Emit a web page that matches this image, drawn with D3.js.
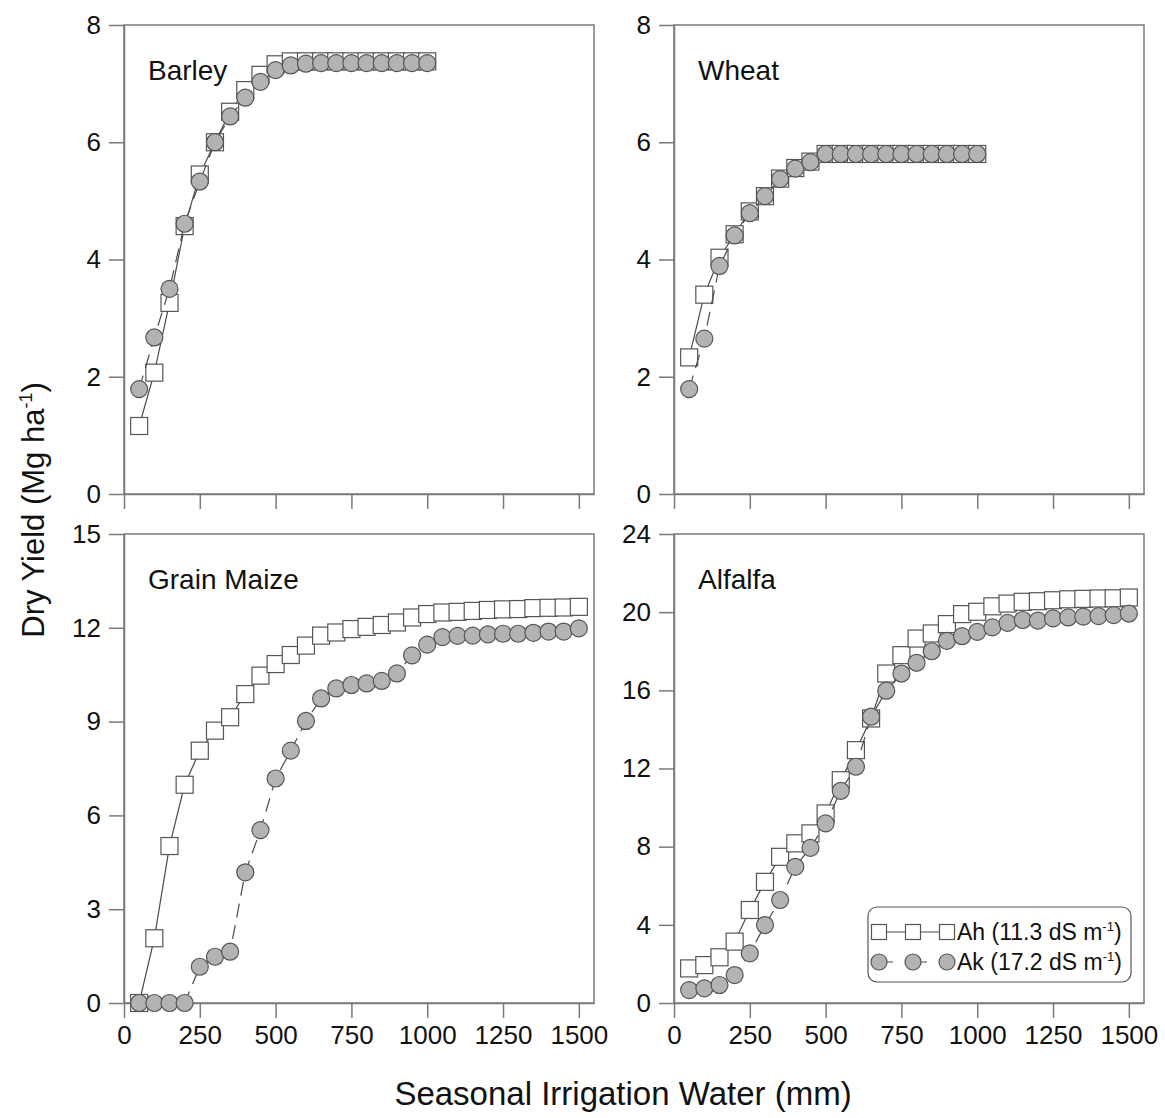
<!DOCTYPE html>
<html>
<head>
<meta charset="utf-8">
<script src="https://cdn.jsdelivr.net/npm/d3@7"></script>
<style>
body { margin: 0; background: #fff; }
svg text { font-family: "Liberation Sans", Arial, sans-serif; fill: #111; }
</style>
</head>
<body>
<div id="chart"></div>
<script>
// irrigation amounts (mm)
var waterShort = [50,100,150,200,250,300,350,400,450,500,550,600,650,700,750,800,850,900,950,1000];
var waterLong = [50,100,150,200,250,300,350,400,450,500,550,600,650,700,750,800,850,900,950,1000,
                 1050,1100,1150,1200,1250,1300,1350,1400,1450,1500];

// Ah = 11.3 dS/m, Ak = 17.2 dS/m
var barleyAh = [1.16,2.07,3.26,4.57,5.45,6.0,6.52,6.89,7.15,7.33,7.38,7.38,7.38,7.38,7.38,7.38,7.38,7.38,7.38,7.38];
var barleyAk = [1.79,2.67,3.5,4.61,5.33,6.0,6.44,6.76,7.03,7.23,7.31,7.34,7.35,7.35,7.35,7.35,7.35,7.35,7.35,7.35];
var wheatAh = [2.33,3.4,4.03,4.43,4.82,5.08,5.38,5.56,5.67,5.8,5.8,5.8,5.8,5.8,5.8,5.8,5.8,5.8,5.8,5.8];
var wheatAk = [1.79,2.65,3.89,4.41,4.79,5.08,5.37,5.55,5.66,5.8,5.8,5.8,5.8,5.8,5.8,5.8,5.8,5.8,5.8,5.8];
var maizeAh = [0,2.07,5.02,6.98,8.07,8.71,9.14,9.88,10.47,10.84,11.13,11.43,11.75,11.85,11.96,12.03,12.09,12.17,12.33,12.44,
               12.49,12.51,12.54,12.57,12.59,12.6,12.63,12.64,12.65,12.67];
var maizeAk = [0,0,0,0,1.16,1.48,1.64,4.18,5.53,7.18,8.07,9.02,9.74,10.06,10.17,10.22,10.3,10.54,11.12,11.46,
               11.7,11.74,11.75,11.79,11.81,11.81,11.84,11.88,11.88,11.98];
var alfalfaAh = [1.77,1.94,2.34,3.14,4.76,6.2,7.48,8.17,8.68,9.7,11.4,12.94,14.56,16.86,17.8,18.65,18.91,19.39,19.9,20.02,
                 20.3,20.44,20.53,20.56,20.61,20.66,20.68,20.7,20.71,20.75];
var alfalfaAk = [0.66,0.75,0.92,1.43,2.54,3.99,5.27,6.97,7.94,9.19,10.86,12.09,14.65,15.98,16.86,17.41,18.0,18.53,18.77,18.99,
                 19.22,19.45,19.6,19.57,19.68,19.73,19.77,19.8,19.85,19.93];

var cropNames = ["Barley","Wheat","Grain Maize","Alfalfa"];
var yMaxes = [8,8,15,24];
var yTickSteps = [2,2,3,4];
var xTicks = [0,250,500,750,1000,1250,1500];
var legendNames = ["Ah (11.3 dS m", "Ak (17.2 dS m"];

var panels = [
    {name: cropNames[0], water: waterShort, ah: barleyAh, ak: barleyAk, ymax: yMaxes[0], step: yTickSteps[0], left: 124, top: 25, labels: false},
    {name: cropNames[1], water: waterShort, ah: wheatAh, ak: wheatAk, ymax: yMaxes[1], step: yTickSteps[1], left: 674, top: 25, labels: false},
    {name: cropNames[2], water: waterLong, ah: maizeAh, ak: maizeAk, ymax: yMaxes[2], step: yTickSteps[2], left: 124, top: 534, labels: true},
    {name: cropNames[3], water: waterLong, ah: alfalfaAh, ak: alfalfaAk, ymax: yMaxes[3], step: yTickSteps[3], left: 674, top: 534, labels: true}
];

var panelW = 470, panelH = 469;
var frameColor = "#7a7a7a";
var lineColor = "#4a4a4a";

var svg = d3.select("#chart").append("svg")
    .attr("width", 1165)
    .attr("height", 1118);

function drawPanel(p){
    var g = svg.append("g").attr("transform", "translate(" + p.left + "," + p.top + ")");

    var x = d3.scaleLinear().domain([0, 1550]).range([0, panelW]);
    var y = d3.scaleLinear().domain([0, p.ymax]).range([panelH, 0]);

    var xAxis = d3.axisBottom(x).tickValues(xTicks).tickSizeInner(15).tickSizeOuter(0).tickPadding(8)
        .tickFormat(p.labels ? d3.format("d") : "");
    var yAxis = d3.axisLeft(y).tickValues(d3.range(0, p.ymax + 0.01, p.step)).tickSizeInner(15).tickSizeOuter(0).tickPadding(8);

    // frame
    g.append("rect")
        .attr("x", 0).attr("y", 0)
        .attr("width", panelW).attr("height", panelH)
        .attr("fill", "none")
        .attr("stroke", frameColor)
        .attr("stroke-width", 1.5);

    var gx = g.append("g")
        .attr("transform", "translate(0," + panelH + ")")
        .call(xAxis);
    var gy = g.append("g").call(yAxis);
    [gx, gy].forEach(function(a){
        a.select(".domain").attr("stroke", frameColor).attr("stroke-width", 1.5);
        a.selectAll(".tick line").attr("stroke", frameColor).attr("stroke-width", 1.5);
        a.selectAll(".tick text").style("font-size", "26px").attr("fill", "#111");
    });

    g.append("text")
        .attr("x", 24)
        .attr("y", 55)
        .style("font-size", "28px")
        .text(p.name);

    var line = d3.line()
        .x(function(d, i) { return x(p.water[i]); })
        .y(function(d) { return y(d); });

    g.append("path")
        .datum(p.ah)
        .attr("d", line)
        .attr("fill", "none")
        .attr("stroke", lineColor)
        .attr("stroke-width", 1.2);

    g.selectAll("rect.ah")
        .data(p.ah)
        .enter()
        .append("rect")
        .attr("class", "ah")
        .attr("x", function(d, i) { return x(p.water[i]) - 8.5; })
        .attr("y", function(d) { return y(d) - 8.5; })
        .attr("width", 17)
        .attr("height", 17)
        .attr("fill", "#fff")
        .attr("stroke", "#555")
        .attr("stroke-width", 1.2);

    g.append("path")
        .datum(p.ak)
        .attr("d", line)
        .attr("fill", "none")
        .attr("stroke", lineColor)
        .attr("stroke-width", 1.2)
        .attr("stroke-dasharray", "14,8");

    g.selectAll("circle.ak")
        .data(p.ak)
        .enter()
        .append("circle")
        .attr("class", "ak")
        .attr("cx", function(d, i) { return x(p.water[i]); })
        .attr("cy", function(d) { return y(d); })
        .attr("r", 8.5)
        .attr("fill", "#b3b3b3")
        .attr("stroke", "#555")
        .attr("stroke-width", 1.2);
}

panels.forEach(drawPanel);

// legend in alfalfa panel
var lg = svg.append("g").attr("transform", "translate(868,907)");
lg.append("rect")
    .attr("width", 263).attr("height", 75)
    .attr("rx", 9).attr("ry", 9)
    .attr("fill", "#fff")
    .attr("stroke", "#555")
    .attr("stroke-width", 1.2);

var legX = [11, 45, 79];
var rowY = [25, 55];

lg.append("line").attr("x1", legX[0]).attr("x2", legX[2]).attr("y1", rowY[0]).attr("y2", rowY[0])
    .attr("stroke", lineColor).attr("stroke-width", 1.2);
lg.selectAll("rect.sq").data(legX).enter().append("rect")
    .attr("class", "sq")
    .attr("x", function(d) { return d - 7.5; })
    .attr("y", rowY[0] - 7.5)
    .attr("width", 15).attr("height", 15)
    .attr("fill", "#fff").attr("stroke", "#555").attr("stroke-width", 1.2);

lg.append("line").attr("x1", legX[0]).attr("x2", legX[2]).attr("y1", rowY[1]).attr("y2", rowY[1])
    .attr("stroke", lineColor).attr("stroke-width", 1.2).attr("stroke-dasharray", "14,20");
lg.selectAll("circle.ci").data(legX).enter().append("circle")
    .attr("class", "ci")
    .attr("cx", function(d) { return d; })
    .attr("cy", rowY[1])
    .attr("r", 8)
    .attr("fill", "#b3b3b3").attr("stroke", "#555").attr("stroke-width", 1.2);

legendNames.forEach(function(name, i){
    var t = lg.append("text")
        .attr("x", 89)
        .attr("y", rowY[i] + 8)
        .style("font-size", "23px");
    t.append("tspan").text(name);
    t.append("tspan").attr("dy", -9).style("font-size", "13px").text("-1");
    t.append("tspan").attr("dy", 9).text(")");
});

// axis titles
var yt = svg.append("text")
    .attr("transform", "translate(44,510) rotate(-90)")
    .attr("text-anchor", "middle")
    .style("font-size", "31px");
yt.append("tspan").text("Dry Yield (Mg ha");
yt.append("tspan").attr("dy", -12).style("font-size", "18px").text("-1");
yt.append("tspan").attr("dy", 12).text(")");

svg.append("text")
    .attr("x", 623)
    .attr("y", 1105)
    .attr("text-anchor", "middle")
    .style("font-size", "33px")
    .text("Seasonal Irrigation Water (mm)");
</script>
</body>
</html>
